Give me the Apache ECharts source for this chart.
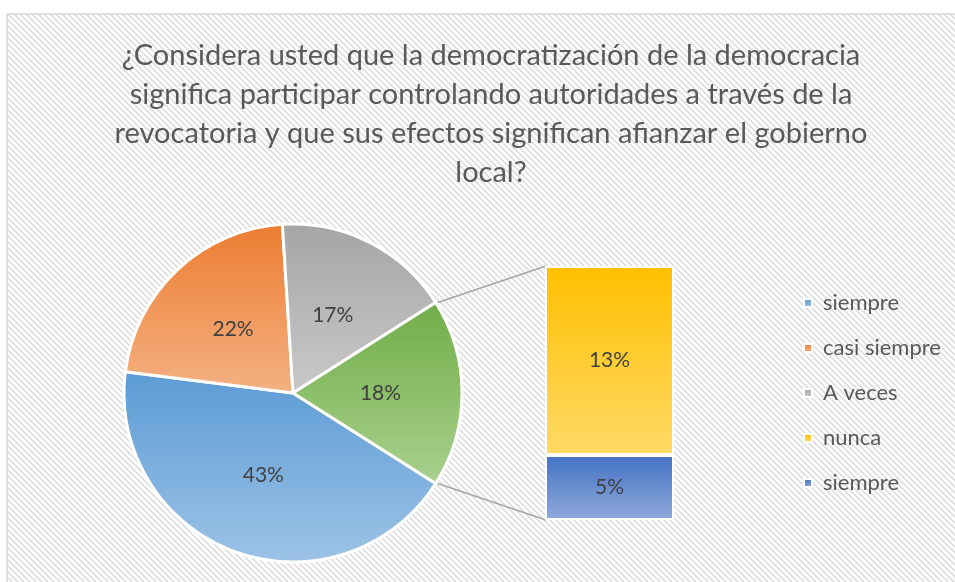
<!DOCTYPE html>
<html>
<head>
<meta charset="utf-8">
<script src="https://cdn.jsdelivr.net/npm/echarts@6/dist/echarts.min.js"></script>
<style>
html,body{margin:0;padding:0;background:#fff;}
#chart{width:955px;height:582px;}
</style>
</head>
<body>
<div id="chart"></div>
<script>
// ---- data ----
var titleText = '¿Considera usted que la democratización de la democracia\nsignifica participar controlando autoridades a través de la\nrevocatoria y que sus efectos significan afianzar el gobierno\nlocal?';
var pieNames = ['siempre', 'casi siempre', 'A veces', 'Otros'];
var pieValues = [43, 22, 17, 18];
var barCategories = ['Otros'];
var barSiempre = [4.6];
var barNunca = [13.4];
var legendNames = ['siempre', 'casi siempre', 'A veces', 'nunca', 'siempre '];

// ---- styles ----
function grad(top, bottom) {
  return new echarts.graphic.LinearGradient(0, 0, 0, 1, [
    {offset: 0, color: top}, {offset: 1, color: bottom}
  ]);
}
var pieColors = [
  grad('#5B9BD5', '#9DC3E6'),
  grad('#ED7D31', '#F4B183'),
  grad('#A5A5A5', '#C9C9C9'),
  grad('#70AD47', '#A9D18E')
];
var colNunca = grad('#FFC000', '#FFD966');
var colSiempre2 = grad('#4472C4', '#8FAADC');

var pieCenter = [293, 393];
var pieR = 169;
var halfOther = pieValues[3] / 100 * 180; // half angle of "other" slice
var gridLeft = 545, gridWidth = 129, gridTop = 266, gridBottom = 62;
var fontFam = 'Lato';

// hatch pattern
var tile = document.createElement('canvas');
tile.width = 6; tile.height = 6;
var tc = tile.getContext('2d');
tc.fillStyle = '#ffffff';
tc.fillRect(0, 0, 6, 6);
tc.strokeStyle = '#dedede';
tc.lineWidth = 1.7;
for (var k = -6; k <= 6; k += 6) {
  tc.beginPath();
  tc.moveTo(k - 1, -1);
  tc.lineTo(k + 7, 7);
  tc.stroke();
}

var chart = echarts.init(document.getElementById('chart'), null, {renderer: 'canvas'});

var pieData = pieNames.map(function (n, i) {
  return {name: n, value: pieValues[i], itemStyle: {color: pieColors[i]}};
});

function pct(p) { return Math.round(p.value) + '%'; }

var option = {
  animation: false,
  backgroundColor: '#ffffff',
  title: {
    text: titleText,
    left: 486,
    top: 31,
    textAlign: 'center',
    textStyle: {
      fontFamily: fontFam,
      fontSize: 29,
      fontWeight: 'normal',
      color: '#595959',
      lineHeight: 39
    }
  },
  legend: {
    orient: 'vertical',
    left: 798,
    top: 287,
    itemWidth: 8,
    itemHeight: 8,
    itemGap: 23,
    selectedMode: false,
    icon: 'rect',
    data: legendNames,
    textStyle: {
      fontFamily: fontFam,
      fontSize: 22,
      color: '#595959',
      lineHeight: 22,
      padding: [0, 0, 0, 6]
    }
  },
  grid: {left: gridLeft, width: gridWidth, top: gridTop, bottom: gridBottom, containLabel: false},
  xAxis: {type: 'category', data: barCategories, show: false},
  yAxis: {type: 'value', min: 0, max: barSiempre[0] + barNunca[0], show: false},
  graphic: [
    {
      type: 'rect', z: -10, silent: true,
      shape: {x: 7, y: 14, width: 960, height: 580},
      style: {fill: {image: tile, repeat: 'repeat'}, stroke: '#d9d9d9', lineWidth: 1.5}
    }
  ],
  series: [
    {
      type: 'pie',
      center: pieCenter,
      radius: pieR,
      startAngle: -halfOther,
      clockwise: true,
      percentPrecision: 0,
      data: pieData,
      itemStyle: {borderColor: '#ffffff', borderWidth: 3},
      label: {
        position: 'inside',
        formatter: '{d}%',
        fontFamily: fontFam,
        fontSize: 21,
        color: '#404040'
      },
      labelLine: {show: false},
      emphasis: {disabled: true}
    },
    {
      type: 'bar',
      name: 'siempre ',
      stack: 'o',
      barWidth: '100%',
      data: barSiempre,
      itemStyle: {color: colSiempre2, borderColor: '#ffffff', borderWidth: 2},
      label: {show: true, position: 'inside', formatter: pct, fontFamily: fontFam, fontSize: 21, color: '#404040'}
    },
    {
      type: 'bar',
      name: 'nunca',
      stack: 'o',
      barWidth: '100%',
      data: barNunca,
      itemStyle: {color: colNunca, borderColor: '#ffffff', borderWidth: 2},
      label: {show: true, position: 'inside', formatter: pct, fontFamily: fontFam, fontSize: 21, color: '#404040'}
    }
  ]
};
chart.setOption(option);

// connector lines between the "other" slice and the bar
var a = halfOther * Math.PI / 180;
var p1 = [pieCenter[0] + pieR * Math.cos(a), pieCenter[1] - pieR * Math.sin(a)];
var p2 = [pieCenter[0] + pieR * Math.cos(a), pieCenter[1] + pieR * Math.sin(a)];
var bTop = chart.convertToPixel({gridIndex: 0}, [0, barSiempre[0] + barNunca[0]]);
var bBot = chart.convertToPixel({gridIndex: 0}, [0, 0]);
var gl = gridLeft + 1;
chart.setOption({
  graphic: [
    option.graphic[0],
    {type: 'line', silent: true, shape: {x1: p1[0] + 2, y1: p1[1], x2: gl, y2: bTop[1]}, style: {stroke: '#a6a6a6', lineWidth: 1.5}},
    {type: 'line', silent: true, shape: {x1: p2[0] + 2, y1: p2[1], x2: gl, y2: bBot[1]}, style: {stroke: '#a6a6a6', lineWidth: 1.5}}
  ]
});
</script>
</body>
</html>
